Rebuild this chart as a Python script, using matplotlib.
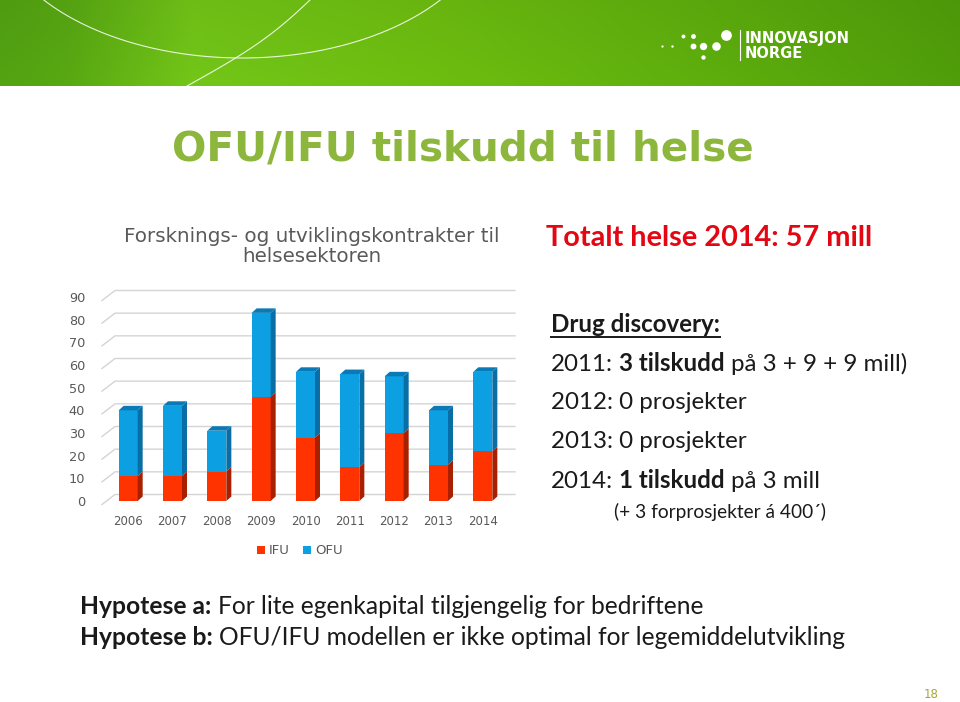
import numpy as np
import matplotlib
matplotlib.use("Agg")
import matplotlib.pyplot as plt
from matplotlib.patches import Polygon
from matplotlib.lines import Line2D

# ---------------- data ----------------
years = ["2006", "2007", "2008", "2009", "2010", "2011", "2012", "2013", "2014"]
ifu = [11, 11, 13, 46, 28, 15, 30, 16, 22]
ofu = [29, 31, 18, 37, 29, 41, 25, 24, 35]
yticks = [0, 10, 20, 30, 40, 50, 60, 70, 80, 90]
series_names = ["IFU", "OFU"]

W, H = 960, 702
fig = plt.figure(figsize=(W / 100, H / 100), dpi=100)

# background axes in pixel coordinates
bg = fig.add_axes([0, 0, 1, 1])
bg.set_xlim(0, W)
bg.set_ylim(H, 0)
bg.axis("off")

# ---------------- banner ----------------
xs = np.linspace(0, 1, 480)
stops = [(0.0, (0.31, 0.61, 0.07)), (0.07, (0.33, 0.63, 0.07)), (0.2, (0.43, 0.74, 0.09)),
         (0.45, (0.41, 0.71, 0.06)), (0.75, (0.35, 0.65, 0.05)), (1.0, (0.30, 0.59, 0.04))]
img = np.zeros((40, 480, 3))
for c in range(3):
    row = np.interp(xs, [s[0] for s in stops], [s[1][c] for s in stops])
    for r in range(40):
        img[r, :, c] = row * (1.0 + 0.05 * (r / 39.0))
img = np.clip(img, 0, 1)
bg.imshow(img, extent=[0, W, 86, 0], aspect="auto", zorder=0, interpolation="bilinear")
# decorative curves
cx, cy, rx, ry = 242, -92, 251, 150
ang = np.linspace(0.55, np.pi - 0.55, 300)
bg.plot(cx + rx * np.cos(ang), cy + ry * np.sin(ang), color="white", lw=0.8, alpha=0.85, zorder=1)
tt = np.linspace(0, 1, 60)
bg.plot(187 + (310 - 187) * tt + 10 * np.sin(np.pi * tt), 86 - 86 * tt, color="white", lw=0.8, alpha=0.85, zorder=1)
bg.set_xlim(0, W)
bg.set_ylim(H, 0)

# logo
dots = [(726, 35, 60), (716, 46, 38), (703, 46, 28), (693, 46, 18), (693, 36, 12),
        (683, 36, 8), (703, 57, 10), (672, 46, 3), (662, 46, 2.5)]
for (dx, dy, s) in dots:
    bg.scatter([dx], [dy], s=s, color="white", zorder=3, linewidths=0)
bg.plot([740, 740], [30, 60], color="white", lw=0.8, zorder=3)
bg.text(745, 38, "INNOVASJON", color="white", fontsize=10.5, fontweight="bold",
        family="DejaVu Sans", va="center", ha="left", zorder=3)
bg.text(745, 53, "NORGE", color="white", fontsize=10.5, fontweight="bold",
        family="DejaVu Sans", va="center", ha="left", zorder=3)

# ---------------- titles ----------------
bg.text(463, 150, "OFU/IFU tilskudd til helse", color="#8db63c", fontsize=29.2,
        fontweight="bold", family="DejaVu Sans", ha="center", va="center")
bg.text(312, 237, "Forsknings- og utviklingskontrakter til", color="#595959",
        fontsize=14.3, family="DejaVu Sans", ha="center", va="center")
bg.text(312, 257, "helsesektoren", color="#595959", fontsize=14.3,
        family="DejaVu Sans", ha="center", va="center")
bg.text(709, 238, "Totalt helse 2014: 57 mill", color="#e30613", fontsize=20.8,
        fontweight="bold", family="Lato", ha="center", va="center")

# ---------------- chart ----------------
ax_l, ax_r, ax_b, ax_t = 106, 505, 501, 297
ax = fig.add_axes([ax_l / W, 1 - ax_b / H, (ax_r - ax_l) / W, (ax_b - ax_t) / H])
ax.set_xlim(-0.5, len(years) - 0.5)
ax.set_ylim(0, 90)
ax.patch.set_alpha(0)
for sp in ax.spines.values():
    sp.set_visible(False)
ax.set_yticks(yticks)
ax.set_yticklabels([str(v) for v in yticks])
ax.set_xticks(range(len(years)))
ax.set_xticklabels(years)
ax.tick_params(axis="both", length=0, colors="#595959", labelsize=8.5)
ax.tick_params(axis="y", pad=15, labelsize=9.3)
ax.tick_params(axis="x", pad=10)
for lab in ax.get_xticklabels() + ax.get_yticklabels():
    lab.set_family("DejaVu Sans")

# pixel -> data factors
px_x = (len(years)) / (ax_r - ax_l)
px_y = 90.0 / (ax_b - ax_t)

# back-wall gridlines with floor diagonal
x0 = -0.5
for v in yticks:
    xa, ya = x0 - 4 * px_x, v - 3.5 * px_y
    xb, yb = x0 + 9 * px_x, v + 6.5 * px_y
    xc = x0 + 409 * px_x
    ax.add_line(Line2D([xa, xb, xc], [ya, yb, yb], color="#d4d4d4", lw=1.0,
                       clip_on=False, zorder=0))

bw = 19 * px_x
ddx, ddy = 5 * px_x, 4.5 * px_y
red_f, red_s = "#ff3300", "#a82000"
blu_f, blu_s, blu_t = "#0ca0e2", "#0a6ea6", "#0a7ab6"

b1 = ax.bar(range(len(years)), ifu, width=bw, color=red_f, label=series_names[0], zorder=2)
b2 = ax.bar(range(len(years)), ofu, width=bw, bottom=ifu, color=blu_f, label=series_names[1], zorder=2)
for i in range(len(years)):
    xr = i + bw / 2
    xl = i - bw / 2
    lo, mid, hi = 0, ifu[i], ifu[i] + ofu[i]
    ax.add_patch(Polygon([(xr, lo), (xr + ddx, lo + ddy), (xr + ddx, mid + ddy), (xr, mid)],
                         closed=True, color=red_s, zorder=2, lw=0, clip_on=False))
    ax.add_patch(Polygon([(xr, mid), (xr + ddx, mid + ddy), (xr + ddx, hi + ddy), (xr, hi)],
                         closed=True, color=blu_s, zorder=2, lw=0, clip_on=False))
    ax.add_patch(Polygon([(xl, hi), (xl + ddx, hi + ddy), (xr + ddx, hi + ddy), (xr, hi)],
                         closed=True, color=blu_t, zorder=2, lw=0, clip_on=False))

leg = fig.legend(handles=[b1, b2], labels=series_names, loc="center",
                 bbox_to_anchor=(300 / W, 1 - 551 / H), ncol=2, frameon=False,
                 handlelength=0.6, handleheight=0.6, handletextpad=0.3, columnspacing=1.0,
                 prop={"family": "DejaVu Sans", "size": 9.5})
for txt in leg.get_texts():
    txt.set_color("#595959")

# ---------------- rich text helper ----------------
renderer = fig.canvas.get_renderer()


def text_w(s, size, weight, family):
    a = bg.text(0, 300, s, fontsize=size, fontweight=weight, family=family)
    w = a.get_window_extent(renderer).width
    a.remove()
    return w


def advance(txt, size, weight, family):
    return (text_w("|" + txt + "|", size, weight, family)
            - text_w("||", size, weight, family))


def rich(x, y, parts, size, color="#1a1a1a", family="Lato"):
    """y is the vertical centre of the line; text is laid out on a common baseline."""
    base = y + 0.28 * size * 100 / 72.0
    cur = x
    for txt, bold in parts:
        weight = "bold" if bold else "normal"
        lead = txt[:len(txt) - len(txt.lstrip(" "))]
        core = txt.strip(" ")
        if lead:
            cur += advance(lead, size, weight, family)
        bg.text(cur, base, core, fontsize=size, fontweight=weight, family=family,
                color=color, ha="left", va="baseline")
        cur += advance(core, size, weight, family)
        trail = txt[len(txt.rstrip(" ")):]
        if trail:
            cur += advance(trail, size, weight, family)
    return cur


fam = "Lato"
fs = 17.4
t = bg.text(551, 324, "Drug discovery:", fontsize=fs, fontweight="bold", family=fam,
            color="#1a1a1a", ha="left", va="center")
bb = t.get_window_extent(renderer)
bg.plot([551, 551 + bb.width], [337, 337], color="#1a1a1a", lw=1.4)
rich(551, 364, [("2011: ", False), ("3 tilskudd", True), (" på 3 + 9 + 9 mill)", False)], fs, family=fam)
rich(551, 402, [("2012: 0 prosjekter", False)], fs, family=fam)
rich(551, 441, [("2013: 0 prosjekter", False)], fs, family=fam)
rich(551, 481, [("2014: ", False), ("1 tilskudd", True), (" på 3 mill", False)], fs, family=fam)
rich(614, 513, [("(+ 3 forprosjekter á 400´)", False)], 13.8, family=fam)

rich(80, 607, [("Hypotese a:", True), (" For lite egenkapital tilgjengelig for bedriftene", False)], 17.7, family=fam)
rich(80, 638, [("Hypotese b:", True), (" OFU/IFU modellen er ikke optimal for legemiddelutvikling", False)], 17.7, family=fam)

bg.text(931, 694, "18", color="#a5a637", fontsize=8.5, family="DejaVu Sans", ha="center", va="center")

fig.savefig("out.png", dpi=100)
